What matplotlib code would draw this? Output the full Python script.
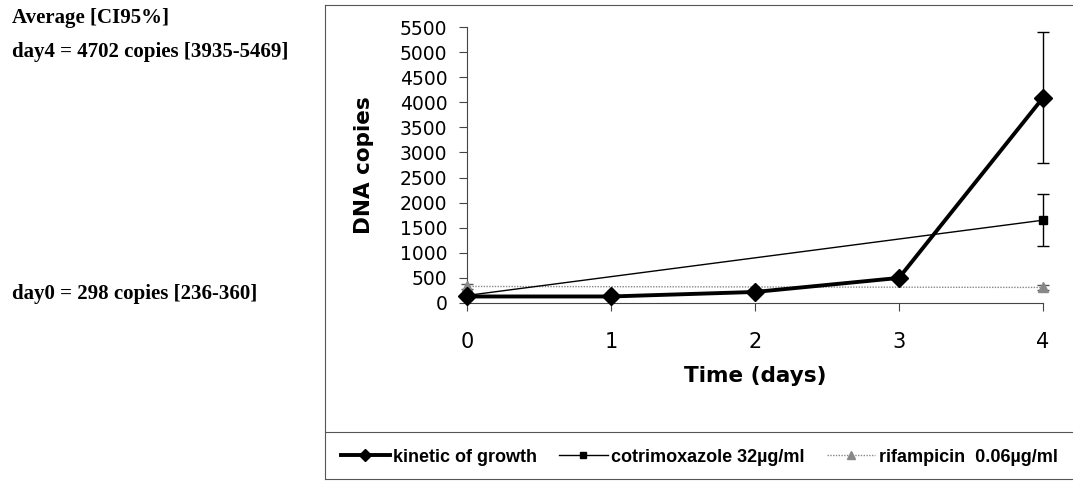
import matplotlib
matplotlib.use("Agg")
import matplotlib.pyplot as plt
from matplotlib.lines import Line2D

# data
days = [0, 1, 2, 3, 4]
kinetic = [130, 130, 220, 500, 4090]
kinetic_err = [40, 50, 30, 60, 1310]
cotri_days = [0, 4]
cotri = [150, 1650]
cotri_err = [0, 520]
rif_days = [0, 4]
rif = [330, 310]
rif_err = [50, 50]
yticks = list(range(0, 5501, 500))

left_texts = ["Average [CI95%]", "day4 = 4702 copies [3935-5469]", "day0 = 298 copies [236-360]"]
legend_labels = ["kinetic of growth", "cotrimoxazole 32µg/ml", "rifampicin  0.06µg/ml"]

W, H = 1073, 486
fig = plt.figure(figsize=(W / 100, H / 100), dpi=100)
fig.patch.set_facecolor("white")

ax = fig.add_axes([467 / W, 1 - 303 / H, (1043 - 467) / W, (303 - 27) / H])
sans = "DejaVu Sans"
lsans = "Liberation Sans"

containers = []
containers.append(ax.errorbar(days, kinetic, yerr=kinetic_err, color="black", lw=2.8, marker="D",
                              markersize=9, ecolor="black", elinewidth=1, capsize=4.5, capthick=1, zorder=5))
containers.append(ax.errorbar(cotri_days, cotri, yerr=cotri_err, color="black", lw=1, marker="s",
                              markersize=6, ecolor="black", elinewidth=1, capsize=4.5, capthick=1, zorder=4))
containers.append(ax.errorbar(rif_days, rif, yerr=rif_err, color="#888888", lw=1, ls=(0, (1, 1)), marker="^",
                              markersize=6.5, ecolor="#555555", elinewidth=1, capsize=4.5, capthick=1, zorder=3))
for c in containers:
    for child in c.get_children():
        child.set_clip_on(False)

ax.set_xlim(0, 4)
ax.set_ylim(0, 5500)
ax.set_yticks(yticks)
ax.set_xticks(days)
ax.spines["top"].set_visible(False)
ax.spines["right"].set_visible(False)
for s in ("left", "bottom"):
    ax.spines[s].set_color("#444444")
    ax.spines[s].set_linewidth(0.8)
ax.tick_params(axis="y", direction="out", length=6, width=0.8, labelsize=13.5, pad=8,
               colors="#444444", labelcolor="black")
ax.tick_params(axis="x", direction="out", length=6, width=0.8, labelsize=15, pad=15,
               colors="#444444", labelcolor="black")
for lab in ax.get_xticklabels() + ax.get_yticklabels():
    lab.set_fontfamily(sans)
ax.set_ylabel("DNA copies", fontsize=15.5, fontweight="bold", family=sans, labelpad=19)
ax.set_xlabel("Time (days)", fontsize=15.5, fontweight="bold", family=sans, labelpad=10)

# outer frame
frame_color = "#555555"
fig.add_artist(Line2D([325 / W, 325 / W], [1 - 5 / H, 1 - 479 / H], color=frame_color, lw=0.8))
fig.add_artist(Line2D([325 / W, 1.0], [1 - 5 / H, 1 - 5 / H], color=frame_color, lw=0.8))
fig.add_artist(Line2D([325 / W, 1.0], [1 - 432 / H, 1 - 432 / H], color=frame_color, lw=0.8))
fig.add_artist(Line2D([325 / W, 1.0], [1 - 479 / H, 1 - 479 / H], color=frame_color, lw=0.8))

# legend
handles = [
    Line2D([], [], color="black", lw=2.8, marker="D", markersize=6),
    Line2D([], [], color="black", lw=1, marker="s", markersize=5),
    Line2D([], [], color="#888888", lw=1, ls=(0, (1, 1)), marker="^", markersize=6),
]
leg = fig.legend(handles, legend_labels, loc="center left", bbox_to_anchor=(332 / W, 1 - 457 / H),
                 ncol=3, frameon=False, borderpad=0, handlelength=2.7, handletextpad=0.2,
                 columnspacing=1.2, prop={"family": lsans, "weight": "bold", "size": 13})

# left annotations
serif = "Liberation Serif"
for txt, yb in zip(left_texts, [23, 57, 299]):
    fig.text(12 / W, 1 - yb / H, txt, family=serif, fontweight="bold", fontsize=15,
             va="baseline", ha="left")

fig.savefig("out.png", dpi=100)
